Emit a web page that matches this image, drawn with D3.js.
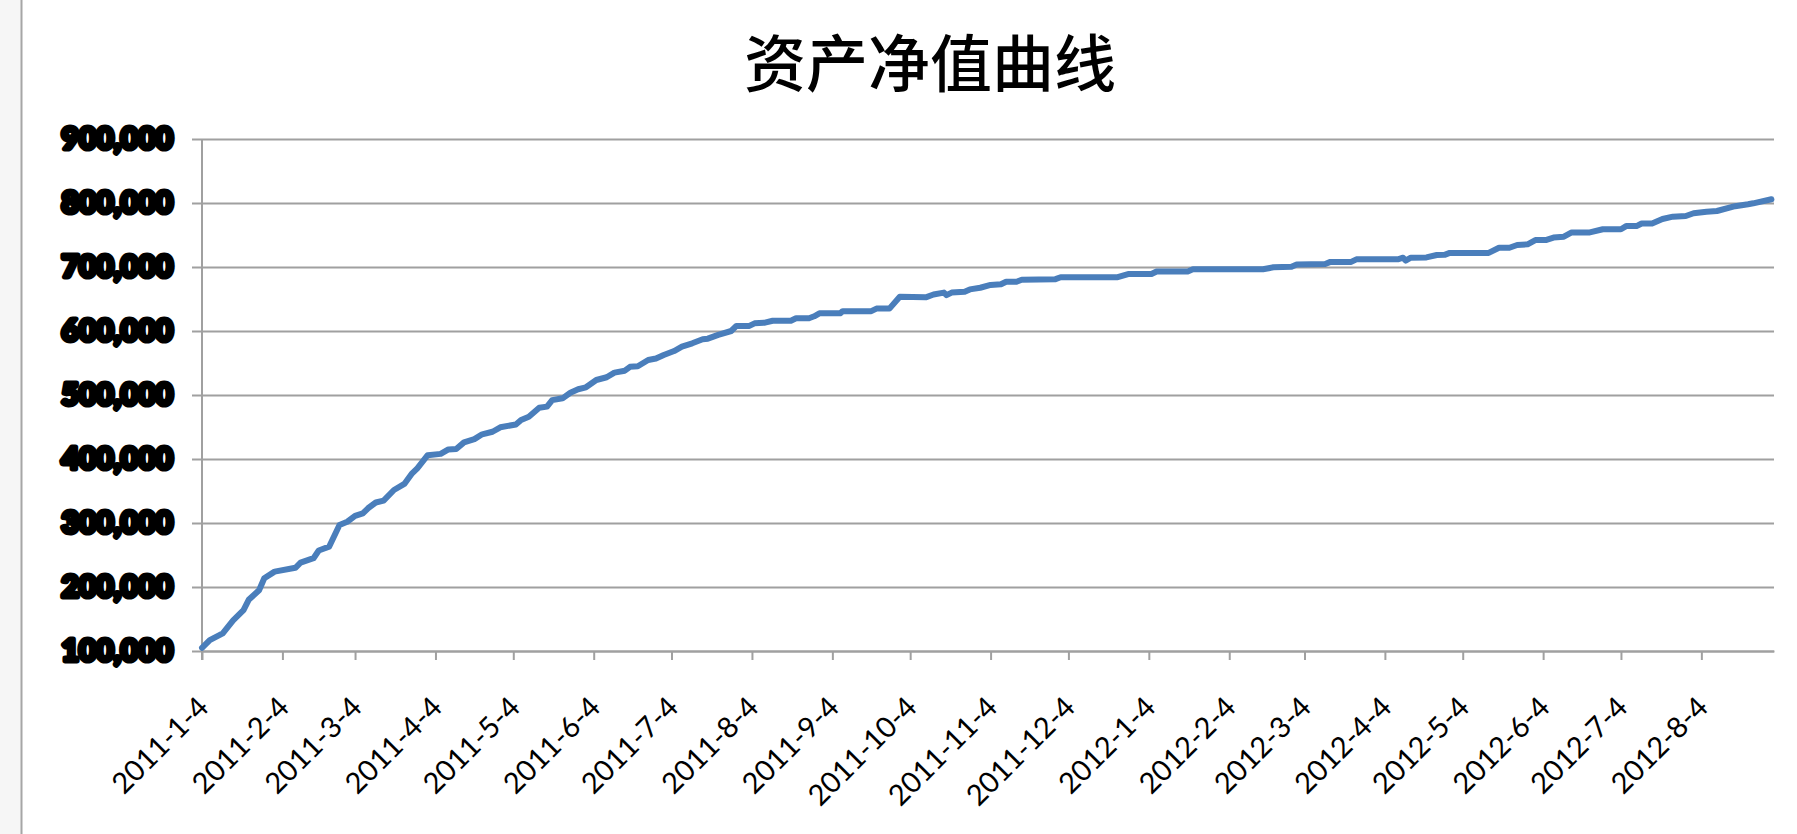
<!DOCTYPE html>
<html>
<head>
<meta charset="utf-8">
<title>资产净值曲线</title>
<script src="https://cdn.jsdelivr.net/npm/d3@7"></script>
<style>
  html, body { margin: 0; padding: 0; background: #fff; }
  svg { display: block; }
</style>
</head>
<body>
<div id="chart"></div>
<script>
// values
const dates = [
  "2011-01-04","2011-01-07","2011-01-12","2011-01-16","2011-01-20","2011-01-22","2011-01-26","2011-01-28",
  "2011-02-01","2011-02-09","2011-02-11","2011-02-16","2011-02-18","2011-02-22","2011-02-26",
  "2011-03-01","2011-03-04","2011-03-07","2011-03-09","2011-03-12","2011-03-15","2011-03-19","2011-03-23","2011-03-26","2011-03-28",
  "2011-04-01","2011-04-06","2011-04-09","2011-04-12","2011-04-15","2011-04-19","2011-04-22","2011-04-26","2011-04-29",
  "2011-05-05","2011-05-07","2011-05-10","2011-05-14","2011-05-17","2011-05-19","2011-05-23","2011-05-26","2011-05-29",
  "2011-06-01","2011-06-05","2011-06-09","2011-06-12","2011-06-16","2011-06-18","2011-06-21","2011-06-25","2011-06-28",
  "2011-07-01","2011-07-05","2011-07-08","2011-07-12","2011-07-16","2011-07-18","2011-07-22","2011-07-27","2011-07-29",
  "2011-08-03","2011-08-05","2011-08-09","2011-08-12","2011-08-19","2011-08-21","2011-08-26","2011-08-28","2011-08-30",
  "2011-09-07","2011-09-08","2011-09-19","2011-09-21","2011-09-26","2011-09-30",
  "2011-10-10","2011-10-13","2011-10-17","2011-10-18","2011-10-20","2011-10-25","2011-10-27","2011-10-31",
  "2011-11-04","2011-11-08","2011-11-10","2011-11-14","2011-11-16","2011-11-29",
  "2011-12-01","2011-12-23","2011-12-27",
  "2012-01-05","2012-01-07","2012-01-19","2012-01-21",
  "2012-02-17","2012-02-21","2012-02-28",
  "2012-03-01","2012-03-12","2012-03-14","2012-03-22","2012-03-24",
  "2012-04-09","2012-04-11","2012-04-12","2012-04-14","2012-04-20","2012-04-24","2012-04-27","2012-04-29",
  "2012-05-14","2012-05-18","2012-05-22","2012-05-25","2012-05-29",
  "2012-06-01","2012-06-05","2012-06-08","2012-06-12","2012-06-15","2012-06-22","2012-06-27",
  "2012-07-04","2012-07-06","2012-07-10","2012-07-12","2012-07-16","2012-07-20","2012-07-24","2012-07-29",
  "2012-08-01","2012-08-06","2012-08-10","2012-08-17","2012-08-22","2012-08-24","2012-08-31"
];

const navValues = [
  105000,117000,127600,148000,164000,180000,195000,213600,
  224000,230000,238000,245000,257000,263000,297000,
  302000,311000,315000,323000,332000,335000,351600,361000,377600,385500,
  406000,408000,415000,415600,426000,431000,438600,442600,449500,
  454000,461000,466000,480000,481800,492000,494800,503600,509000,
  512000,523400,527700,535000,538000,544000,545000,554700,557000,
  562500,568700,575500,580800,587000,588000,594000,600000,608000,
  608000,612000,613000,616000,616000,620000,620000,623000,627600,
  627600,631000,631000,635000,635000,653600,
  652600,657000,660000,656000,660000,661400,665000,667600,
  672000,673000,677000,677000,680000,681000,
  684000,684000,689000,
  689000,693000,693000,696400,
  696400,699500,700500,
  704000,704700,708000,708000,712000,
  712000,714500,710000,714500,715000,718700,719000,722000,
  722000,730000,730000,734400,735500,
  742000,742000,746000,747400,754000,754000,759000,
  759000,763900,763900,768000,768000,775000,778600,779700,
  784000,786400,787500,795000,798000,799500,805800
];

const yTickValues = [100000, 200000, 300000, 400000, 500000, 600000, 700000, 800000, 900000];

const xTickLabels = [
  "2011-1-4","2011-2-4","2011-3-4","2011-4-4","2011-5-4","2011-6-4","2011-7-4","2011-8-4",
  "2011-9-4","2011-10-4","2011-11-4","2011-12-4","2012-1-4","2012-2-4","2012-3-4","2012-4-4",
  "2012-5-4","2012-6-4","2012-7-4","2012-8-4"
];

const chartTitle = "资产净值曲线";

const width = 1797, height = 834;
const plotLeft = 202, plotRight = 1774, plotTop = 139, plotBottom = 651;

const parseDate = d3.timeParse("%Y-%m-%d");
const data = dates.map((d, i) => ({ date: parseDate(d), value: navValues[i] }));

const svg = d3.select("#chart").append("svg")
    .attr("width", width)
    .attr("height", height);

// left edge strip of the sheet
svg.append("rect")
    .attr("x", 0).attr("y", 0)
    .attr("width", 21).attr("height", height)
    .attr("fill", "#f6f6f6");
svg.append("line")
    .attr("x1", 21.5).attr("x2", 21.5)
    .attr("y1", 0).attr("y2", height)
    .attr("stroke", "#a6a6a6")
    .attr("stroke-width", 2);

const x = d3.scaleTime()
    .domain([parseDate("2011-01-04"), parseDate("2012-09-01")])
    .range([plotLeft, plotRight]);

const y = d3.scaleLinear()
    .domain([100000, 900000])
    .range([plotBottom, plotTop]);

// horizontal gridlines + y labels
const yAxis = svg.append("g")
    .attr("transform", `translate(${plotLeft - 10},0)`)
    .call(d3.axisLeft(y)
        .tickValues(yTickValues)
        .tickSize(-(plotRight - plotLeft + 10))
        .tickPadding(19)
        .tickFormat(d3.format(",")));

yAxis.select(".domain").remove();
yAxis.selectAll(".tick line")
    .attr("stroke", "#a0a0a0")
    .attr("stroke-width", 2);
yAxis.selectAll(".tick text")
    .style("font-family", "Lato, 'Liberation Sans', sans-serif")
    .style("font-size", "30px")
    .style("font-weight", "900")
    .attr("fill", "#000")
    .attr("stroke", "#000")
    .attr("stroke-width", 5)
    .attr("stroke-linejoin", "round");

// vertical axis line
svg.append("line")
    .attr("x1", plotLeft).attr("x2", plotLeft)
    .attr("y1", plotTop).attr("y2", plotBottom + 9)
    .attr("stroke", "#a0a0a0")
    .attr("stroke-width", 2);

// x axis
const xAxis = svg.append("g")
    .attr("transform", `translate(0,${plotBottom})`)
    .call(d3.axisBottom(x)
        .tickValues(xTickLabels.map(d => parseDate(d)))
        .tickSizeInner(9)
        .tickSizeOuter(0)
        .tickFormat((d, i) => xTickLabels[i]));

xAxis.select(".domain")
    .attr("stroke", "#a0a0a0")
    .attr("stroke-width", 2);
xAxis.selectAll(".tick line")
    .attr("stroke", "#a0a0a0")
    .attr("stroke-width", 2);
xAxis.selectAll(".tick text")
    .attr("x", 0).attr("y", 0).attr("dy", 0)
    .attr("text-anchor", "end")
    .attr("transform", "translate(8,58) rotate(-45)")
    .attr("fill", "#000")
    .style("font-family", "Lato, 'Liberation Sans', sans-serif")
    .style("font-size", "29px");

// the net value curve
const line = d3.line()
    .x(d => x(d.date))
    .y(d => y(d.value));

svg.append("path")
    .datum(data)
    .attr("fill", "none")
    .attr("stroke", "#4a7ebb")
    .attr("stroke-width", 6)
    .attr("stroke-linejoin", "round")
    .attr("stroke-linecap", "round")
    .attr("d", line);

// title
svg.append("text")
    .attr("x", 930)
    .attr("y", 60)
    .attr("text-anchor", "middle")
    .attr("dominant-baseline", "central")
    .style("font-family", "'Noto Sans CJK SC', sans-serif")
    .style("font-size", "62px")
    .style("font-weight", "500")
    .attr("fill", "#000")
    .text(chartTitle);
</script>
</body>
</html>
